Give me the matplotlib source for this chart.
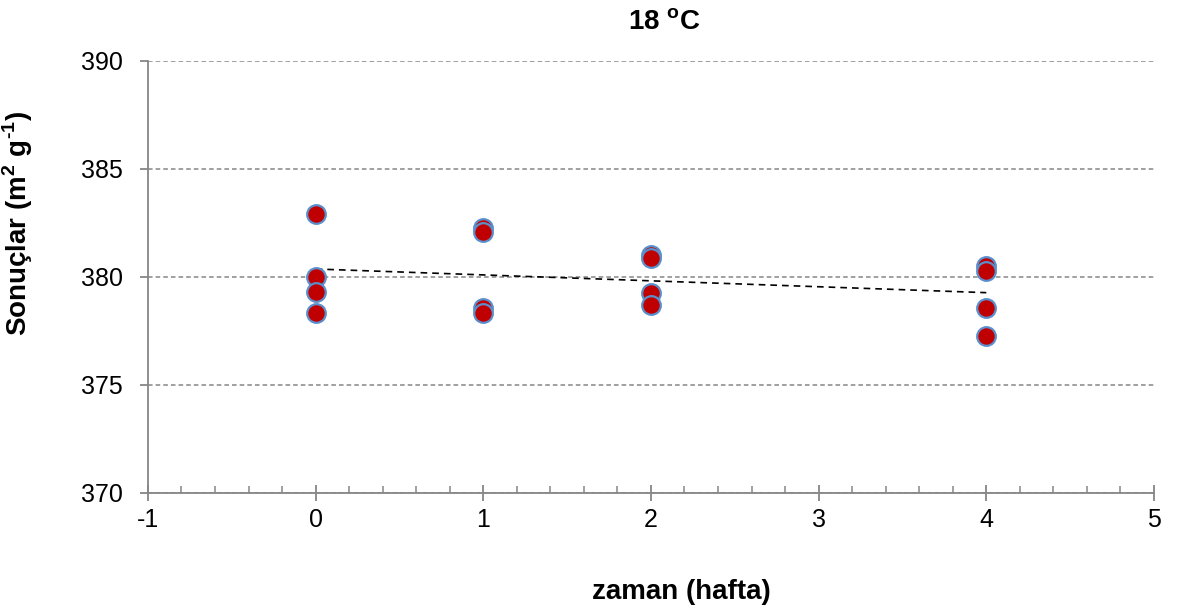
import numpy as np
import matplotlib

matplotlib.use("Agg")
import matplotlib.pyplot as plt
from matplotlib.ticker import MultipleLocator

plt.rcParams["font.family"] = ["Liberation Sans", "DejaVu Sans"]
plt.rcParams["mathtext.fontset"] = "custom"
plt.rcParams["mathtext.rm"] = "Liberation Sans"
plt.rcParams["mathtext.bf"] = "Liberation Sans:bold"
plt.rcParams["axes.unicode_minus"] = False

# hafta / ölçüm değerleri
weeks = [0, 0, 0, 0, 1, 1, 1, 1, 2, 2, 2, 2, 4, 4, 4, 4]
values = [382.9, 380.0, 379.3, 378.35,
          382.25, 382.1, 378.55, 378.35,
          381.0, 380.9, 379.25, 378.7,
          380.5, 380.3, 378.55, 377.25]

GRAY = "#868686"

fig = plt.figure(figsize=(11.78, 6.13), dpi=100)
ax = fig.add_axes([0.1256, 0.1958, 0.8540, 0.7047])

ax.scatter(weeks, values, s=180, c="#C00000", edgecolors="#5B8FCC",
           linewidths=1.6, zorder=3)

# doğrusal eğilim çizgisi
k, b = np.polyfit(weeks, values, 1)
xs = np.array([0, 4])
ax.plot(xs, k * xs + b, color="black", lw=1.2, ls=(0, (4, 3)), zorder=2)

ax.set_xlim(-1, 5)
ax.set_ylim(370, 390)
ax.xaxis.set_major_locator(MultipleLocator(1))
ax.xaxis.set_minor_locator(MultipleLocator(0.2))
ax.yaxis.set_major_locator(MultipleLocator(5))

ax.grid(axis="y", color=GRAY, ls=(0, (3, 2)), lw=1.1)
ax.set_axisbelow(True)
for s in ["top", "right"]:
    ax.spines[s].set_visible(False)
for s in ["left", "bottom"]:
    ax.spines[s].set_color(GRAY)
    ax.spines[s].set_linewidth(1.3)

ax.tick_params(axis="x", which="major", direction="inout", length=11,
               width=1.3, color=GRAY, labelsize=18, pad=5)
ax.tick_params(axis="x", which="minor", direction="in", length=5,
               width=1.1, color=GRAY)
ax.tick_params(axis="y", which="major", direction="out", length=6,
               width=1.3, color=GRAY, labelsize=18, pad=12)

ax.set_title(r"18 $^{\mathbf{o}}$C", fontsize=20, fontweight="bold",
             x=0.513, pad=22)
ax.set_xlabel("zaman (hafta)", fontsize=20, fontweight="bold")
ax.xaxis.set_label_coords(0.530, -0.200)
ax.set_ylabel("Sonuçlar (m$^{\\mathbf{2}}$ g$^{\\mathbf{\u20101}}$)", fontsize=20,
              fontweight="bold")
ax.yaxis.set_label_coords(-0.112, 0.625)

fig.savefig("out.png", dpi=100)
